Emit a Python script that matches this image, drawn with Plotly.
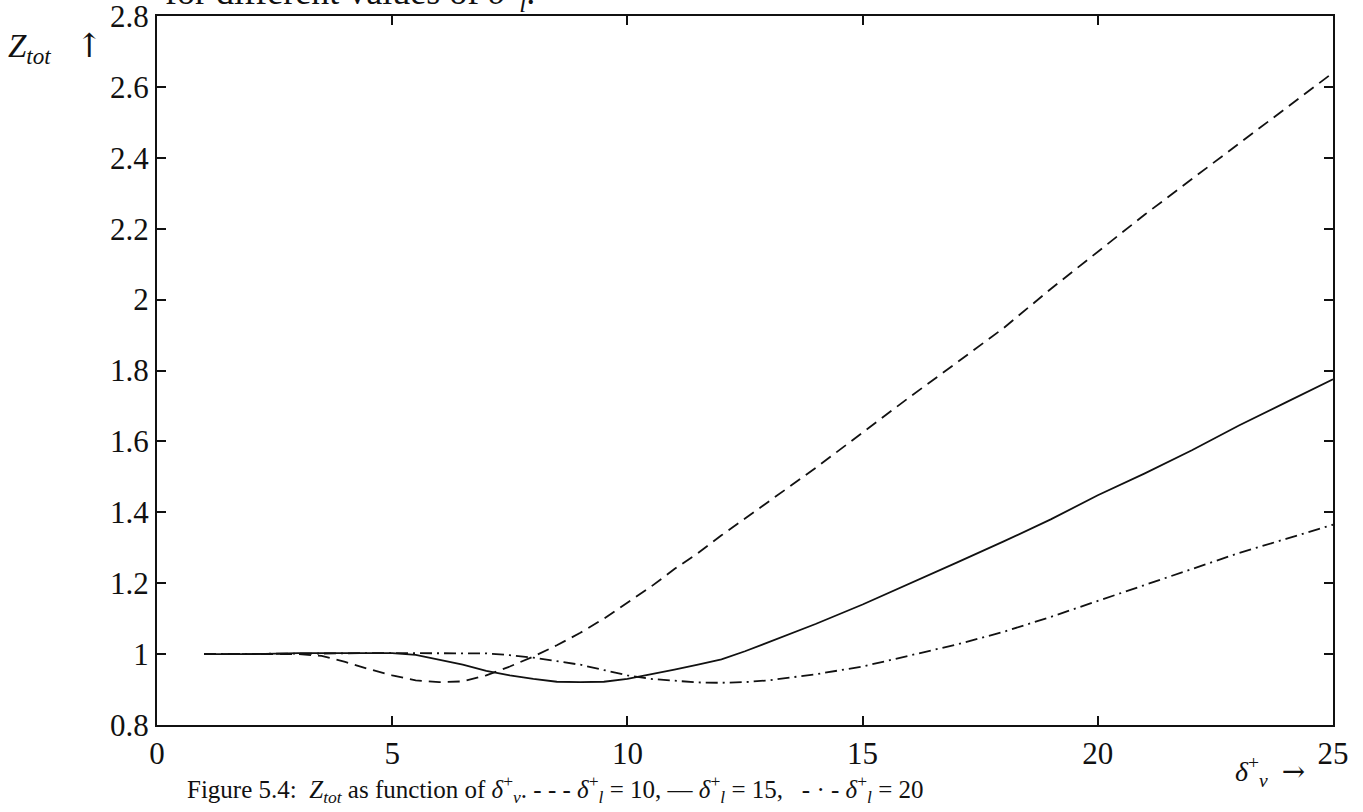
import plotly.graph_objects as go

# Z_tot versus delta_v^+ for three values of delta_l^+
x_vals = [1, 2, 3, 3.5, 4, 4.5, 5, 5.5, 6, 6.5, 7, 7.5, 8, 8.5, 9, 9.5, 10, 10.5,
          11, 11.5, 12, 12.5, 13, 13.5, 14, 15, 16, 17, 18, 19, 20, 21, 22, 23, 24, 25]

z_dl10 = [1.0, 1.0, 1.0, 0.995, 0.978, 0.958, 0.94, 0.926, 0.921, 0.923, 0.94, 0.965,
          0.993, 1.025, 1.06, 1.1, 1.145, 1.19, 1.24, 1.285, 1.335, 1.382, 1.43, 1.478,
          1.525, 1.625, 1.725, 1.822, 1.92, 2.03, 2.135, 2.24, 2.34, 2.44, 2.54, 2.64]

z_dl15 = [1.0, 1.0, 1.003, 1.003, 1.003, 1.003, 1.003, 0.998, 0.985, 0.97, 0.953, 0.94,
          0.93, 0.922, 0.921, 0.922, 0.93, 0.942, 0.956, 0.97, 0.985, 1.008, 1.033, 1.058,
          1.085, 1.14, 1.198, 1.258, 1.318, 1.38, 1.448, 1.51, 1.575, 1.645, 1.71, 1.775]

z_dl20 = [1.0, 1.0, 1.0, 1.0, 1.002, 1.003, 1.003, 1.003, 1.003, 1.003, 1.002, 0.997,
          0.99, 0.98, 0.97, 0.955, 0.94, 0.93, 0.924, 0.92, 0.919, 0.921, 0.926, 0.934,
          0.943, 0.965, 0.995, 1.027, 1.063, 1.105, 1.15, 1.195, 1.24, 1.285, 1.325, 1.365]

x_ticks = [0, 5, 10, 15, 20, 25]
y_ticks = [0.8, 1, 1.2, 1.4, 1.6, 1.8, 2, 2.2, 2.4, 2.6, 2.8]

SERIF = "Liberation Serif, Times New Roman, serif"
INK = "#111111"
ARROW = '<span style="font-family:DejaVu Serif;color:#111111">{}</span>'

fig = go.Figure()
fig.add_trace(go.Scatter(x=x_vals, y=z_dl10, mode="lines",
                         line=dict(color=INK, width=1.8, dash="12px,7px")))
fig.add_trace(go.Scatter(x=x_vals, y=z_dl15, mode="lines",
                         line=dict(color=INK, width=1.8)))
fig.add_trace(go.Scatter(x=x_vals, y=z_dl20, mode="lines",
                         line=dict(color=INK, width=1.8, dash="12px,5px,2px,5px")))

axis_common = dict(
    showgrid=False, zeroline=False, showline=True, linecolor=INK, linewidth=2,
    mirror="ticks", ticks="inside", ticklen=9, tickwidth=1.5, tickcolor=INK,
    tickfont=dict(family=SERIF, size=31, color=INK),
    ticklabeloverflow="allow", automargin=False,
)

fig.update_layout(
    width=1363, height=812,
    margin=dict(l=157, r=30, t=16, b=87),
    paper_bgcolor="white", plot_bgcolor="white",
    showlegend=False,
    xaxis=dict(range=[0, 25], tickvals=x_ticks, ticktext=[str(v) for v in x_ticks],
               **axis_common),
    yaxis=dict(range=[0.8, 2.8], tickvals=y_ticks, ticktext=[f"{v:g}" for v in y_ticks],
               **axis_common),
)

# Axis labels
fig.add_annotation(xref="paper", yref="paper", x=-0.128, y=0.955,
                   xanchor="left", yanchor="middle", showarrow=False,
                   text="<i>Z</i><sub><i>tot</i></sub>   " + ARROW.format("↑"),
                   font=dict(family=SERIF, size=33, color=INK))
fig.add_annotation(xref="paper", yref="paper", x=0.915, y=-0.066,
                   xanchor="left", yanchor="middle", showarrow=False,
                   text="<i>δ</i><sup>+</sup><sub><i>v</i></sub>  " + ARROW.format("→"),
                   font=dict(family=SERIF, size=28, color=INK))

# Text line running above the axes and the caption below them
fig.add_annotation(xref="paper", yref="paper", x=0.005, y=1.034,
                   xanchor="left", yanchor="middle", showarrow=False,
                   text="for different values of <i>δ</i><sup>+</sup><sub><i>l</i></sub>.",
                   font=dict(family=SERIF, size=36, color=INK))
fig.add_annotation(xref="paper", yref="paper", x=0.0238, y=-0.09,
                   xanchor="left", yanchor="middle", showarrow=False,
                   text=("Figure 5.4:  <i>Z</i><sub><i>tot</i></sub> as function of "
                         "<i>δ</i><sup>+</sup><sub><i>v</i></sub>. - - - "
                         "<i>δ</i><sup>+</sup><sub><i>l</i></sub> = 10, — "
                         "<i>δ</i><sup>+</sup><sub><i>l</i></sub> = 15,   - · - "
                         "<i>δ</i><sup>+</sup><sub><i>l</i></sub> = 20"),
                   font=dict(family=SERIF, size=25, color=INK))

fig.write_html("out.html")
